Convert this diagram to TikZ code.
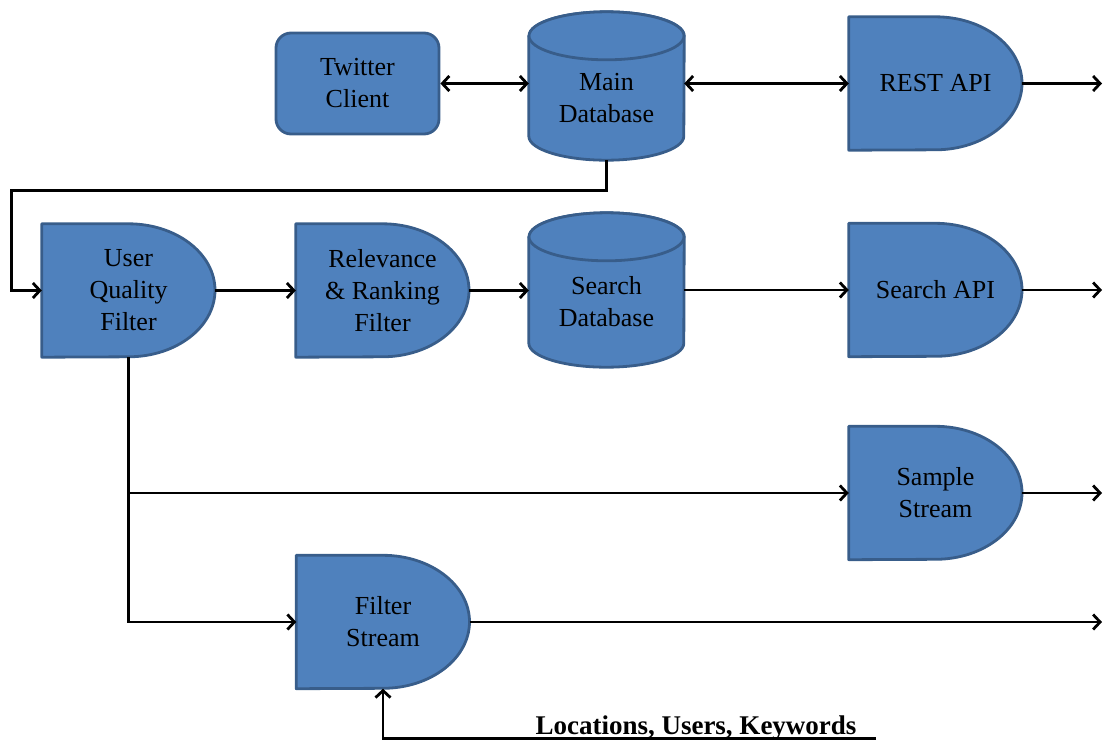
\documentclass[tikz,border=0pt]{standalone}
\usepackage{fontspec}
\setmainfont{Liberation Serif}
\usetikzlibrary{arrows.meta}
\pgfdeclarelayer{background}
\pgfsetlayers{background,main}
\definecolor{boxblue}{HTML}{4F81BD}
\definecolor{boxedge}{HTML}{385D8A}

\begin{document}
\begin{tikzpicture}[x=1pt, y=1pt,
    every node/.style={font=\fontsize{26}{32}\selectfont, align=center, inner sep=0pt},
    shapefill/.style={fill=boxblue, draw=boxedge, line width=2.8pt, line join=round},
    gatebox/.style={minimum width=173pt, minimum height=133pt},
    dbbox/.style={minimum width=155pt},
    >={Straight Barb[length=7pt,width=15pt]},
    flow/.style={line width=2.8pt}
  ]
  \useasboundingbox (0,0) rectangle (1104,-740);

  % top row
  \node[shapefill, rounded corners=15pt, minimum width=163pt, minimum height=101pt] (client) at (357.5,-83.5) {Twitter\\Client};
  \node[dbbox, minimum height=124pt] (maindb) at (606.5,-98) {Main\\Database};
  \node[gatebox] (rest) at (935.5,-83.5) {REST API};

  % middle row
  \node[gatebox] (uqf) at (128.5,-290.5) {User\\Quality\\Filter};
  \node[gatebox] (rrf) at (382.5,-290.5) {Relevance\\\& Ranking\\Filter};
  \node[dbbox, minimum height=130pt] (searchdb) at (606.5,-302) {Search\\Database};
  \node[gatebox] (searchapi) at (935.5,-290) {Search API};

  % streams
  \node[gatebox] (sstream) at (935.5,-493) {Sample\\Stream};
  \node[gatebox] (fstream) at (383,-622) {Filter\\Stream};

  \coordinate (exit) at (1102,0);
  \coordinate (kw) at (876,-738.3);

  \begin{pgfonlayer}{background}
    \foreach \g in {rest,uqf,rrf,searchapi,sstream,fstream}
      \draw[shapefill] (\g.south west) -- (\g.north west) -- (\g.north)
        arc[start angle=90, end angle=-90, x radius=86.5, y radius=66.5] -- cycle;
    \foreach \d in {maindb,searchdb} {
      \draw[shapefill] (\d.north west) -- ([yshift=24pt]\d.south west)
        arc[start angle=180, end angle=360, x radius=77.5, y radius=24]
        -- (\d.north east)
        arc[start angle=0, end angle=180, x radius=77.5, y radius=24] -- cycle;
      \draw[shapefill] (\d.north) ellipse[x radius=77.5, y radius=24];
    }
  \end{pgfonlayer}

  % connectors
  \draw[flow,<->] (client.east) -- (client.east -| maindb.west);
  \draw[flow,<->] (maindb.east |- rest.west) -- (rest.west);
  \draw[flow,->] (rest.east) -- (rest.east -| exit);
  \draw[flow,->] (maindb.south) -- ++(0,-30) -| ([xshift=-30pt]uqf.west) -- (uqf.west);
  \draw[flow,->] (uqf) -- (rrf);
  \draw[flow,->] (rrf.east) -- (rrf.east -| searchdb.west);
  \draw[flow,->] (searchdb.east |- searchapi.west) -- (searchapi.west);
  \draw[flow,->] (searchapi.east) -- (searchapi.east -| exit);
  \draw[flow,->] (uqf.south) |- (fstream.west);
  \draw[flow,->] (uqf.south |- sstream.west) -- (sstream.west);
  \draw[flow,->] (sstream.east) -- (sstream.east -| exit);
  \draw[flow,->] (fstream.east) -- (fstream.east -| exit);
  \draw[flow,->] (kw) -| (fstream.south);
  \node[font=\fontsize{27}{32}\selectfont\bfseries, anchor=base] (kwlabel) at (696,-734) {Locations, Users, Keywords};
\end{tikzpicture}
\end{document}
